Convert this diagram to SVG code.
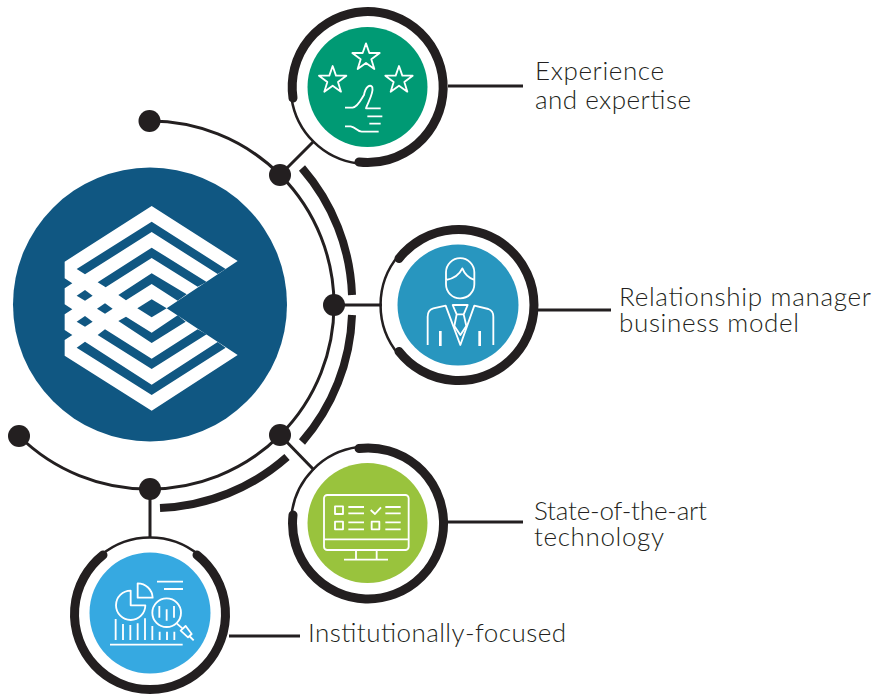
<svg xmlns="http://www.w3.org/2000/svg" width="873" height="695" viewBox="0 0 873 695">
<style>
.thin{fill:none;stroke:#231f20;stroke-width:3}
.line{fill:none;stroke:#231f20;stroke-width:3}
.thick{fill:none;stroke:#231f20;stroke-width:8}
.ring{fill:none;stroke:#231f20;stroke-width:9;stroke-linecap:round}
.ringthin{fill:none;stroke:#231f20;stroke-width:2.500}
.dot{fill:#231f20}
.ic{fill:none;stroke:#fff;stroke-width:5.500;stroke-linejoin:round}
.icf{fill:#fff}
.cut{fill:#105782}
text{font-family:"Lato","Liberation Sans",sans-serif;font-size:26px;font-weight:300;fill:#231f20}
</style>
<defs>
<polygon id="star" points="0,-42 10,-13 41,-13 16,6 25,35 0,17 -25,35 -16,6 -41,-13 -10,-13"/>
</defs>

<g id="connectors">
<path class="thin" d="M150,121 A184,184 0 0 1 150,489 A184,184 0 0 1 19,436"/>
<path class="thick" d="M302,168 A204,204 0 0 1 352,295"/>
<path class="thick" d="M352,315 A204,204 0 0 1 302,442"/>
<path class="thick" d="M287,457 A204,204 0 0 1 160,508"/>
<path class="line" d="M280,175 L314,141"/>
<path class="line" d="M334,305 H382"/>
<path class="line" d="M280,435 L314,470"/>
<path class="line" d="M150,489 V537"/>
<path class="line" d="M448,86 H523"/>
<path class="line" d="M537,310 H611"/>
<path class="line" d="M448,522 H523"/>
<path class="line" d="M229,636 H300"/>
<circle class="dot" cx="149.500" cy="121" r="11"/>
<circle class="dot" cx="280" cy="175" r="11"/>
<circle class="dot" cx="334" cy="305" r="11"/>
<circle class="dot" cx="280" cy="435" r="11"/>
<circle class="dot" cx="150" cy="489" r="11"/>
<circle class="dot" cx="19" cy="436" r="11"/>
</g>

<g id="hub">
<circle cx="150" cy="304.500" r="137" fill="#105782"/>
<g transform="translate(50 195) scale(.33333)">
<polygon fill="#fff" points="305,33 563,198 350,340 563,480 305,647 44,482 44,435 67,420 44,405 44,358 67,343 44,328 44,280 67,265 44,250 44,200"/>
<polygon class="cut" points="80,222 305,80 527,222 503,237 305,111 105,238"/>
<polygon class="cut" points="143,262 305,158 470,261 443,275 305,189 167,277"/>
<polygon class="cut" points="205,300 305,235 410,298 383,317 305,267 228,316"/>
<polygon class="cut" points="305,313 350,340 305,367 262,340"/>
<polygon class="cut" points="205,378 305,444 407,380 383,361 305,413 228,365"/>
<polygon class="cut" points="143,420 305,522 470,418 443,403 305,491 165,403"/>
<polygon class="cut" points="80,458 305,600 527,458 503,441 305,569 105,440"/>
<polygon class="cut" points="105,285 128,302 105,317 80,302"/>
<polygon class="cut" points="165,325 188,341 165,356 141,341"/>
<polygon class="cut" points="105,363 128,380 105,395 80,380"/>
</g>
</g>

<g id="node-experience">
<circle cx="367.500" cy="87" r="60" fill="#009a74"/>
<path class="ringthin" d="M291.500,98 A77,77 0 0 0 358,163.500"/>
<path class="ring" d="M293,98 A75.500,75.500 0 1 1 359,162"/>
<g transform="translate(280 0) scale(.33333)" class="ic">
<use href="#star" x="258" y="172"/><use href="#star" x="158" y="240"/><use href="#star" x="357" y="240"/>
<path d="M195,323 H218 C235,320 245,295 252,285 C256,262 270,250 277,262 C282,280 262,310 258,325 H302 M262,349 H307 M268,371 H302 M195,379 H212 C228,382 232,395 245,395 H296"/>
</g>
<text x="535" y="80" textLength="129" lengthAdjust="spacing">Experience</text>
<text x="535" y="109" textLength="156" lengthAdjust="spacing">and expertise</text>
</g>

<g id="node-relationship">
<circle cx="458" cy="305" r="60.500" fill="#2896bf"/>
<path class="ringthin" d="M399,255 A77,77 0 0 0 399,355"/>
<path class="ring" d="M399,258.500 A75.500,75.500 0 1 1 399,351.500"/>
<g transform="translate(375 220) scale(.33333)" class="ic">
<path d="M213,157 A42,42 0 0 1 298,157 V193 A42,42 0 0 1 256,235 A42,42 0 0 1 213,193 Z M213,180 C240,175 255,160 262,145 C270,165 285,175 298,180"/>
<path d="M158,375 V290 Q158,270 175,265 L212,257 L256,375 L298,257 L340,267 Q355,272 355,290 V375"/>
<path d="M233,255 H278 L266,283 H245 Z M245,283 L238,318 L256,345 L274,318 L266,283"/>
<rect class="icf" x="192" y="333" width="8" height="45" stroke="none"/>
<rect class="icf" x="310" y="333" width="8" height="45" stroke="none"/>
</g>
<text x="619" y="306" textLength="252" lengthAdjust="spacing">Relationship manager</text>
<text x="619" y="332" textLength="180" lengthAdjust="spacing">business model</text>
</g>

<g id="node-technology">
<circle cx="367.500" cy="523" r="60" fill="#99c33d"/>
<path class="ringthin" d="M291.500,515 A77,77 0 0 1 358,447"/>
<path class="ring" d="M293,515 A75.500,75.500 0 1 0 359,448.500"/>
<g transform="translate(280 430) scale(.33333)" class="ic">
<rect x="132" y="195" width="254" height="165" rx="10"/>
<path d="M132,328 H386 M228,360 V388 M290,360 V388 M192,389 H324"/>
<rect x="165" y="229" width="24" height="23"/><rect x="165" y="275" width="24" height="23"/><rect x="275" y="275" width="23" height="23"/>
<path d="M205,231 H252 M205,250 H252 M205,277 H252 M205,298 H252 M316,231 H362 M316,250 H362 M316,277 H362 M316,298 H362 M272,240 L285,252 L303,232"/>
</g>
<text x="534" y="520" textLength="173" lengthAdjust="spacing">State-of-the-art</text>
<text x="534" y="546" textLength="130" lengthAdjust="spacing">technology</text>
</g>

<g id="node-institutional">
<circle cx="150" cy="613" r="60.500" fill="#36a9e1"/>
<path class="ringthin" d="M101,555 A77,77 0 0 1 199,555"/>
<path class="ring" d="M197,555 A75.500,75.500 0 1 1 103,555"/>
<g transform="translate(60 530) scale(.33333)" class="ic">
<path d="M212,182 A44,44 0 1 0 256,226 H212 Z M233,160 V203 H278 A45,45 0 0 0 233,160 Z"/>
<path d="M291,155 H369 M312,177 H369"/>
<circle cx="320" cy="248" r="43"/>
<path d="M298,228 V263 M320,238 V272 M342,228 V263 M350,280 L368,296 M362,302 L377,288 L395,312 L384,322 Z M388,318 L401,331"/>
<path d="M167,267 V330 M189,282 V330 M211,285 V330 M233,280 V330 M255,265 V330 M277,288 V330 M299,305 V330 M321,305 V330 M343,305 V330 M150,344 H368"/>
</g>
<text x="308" y="642" textLength="258" lengthAdjust="spacing">Institutionally-focused</text>
</g>
</svg>
